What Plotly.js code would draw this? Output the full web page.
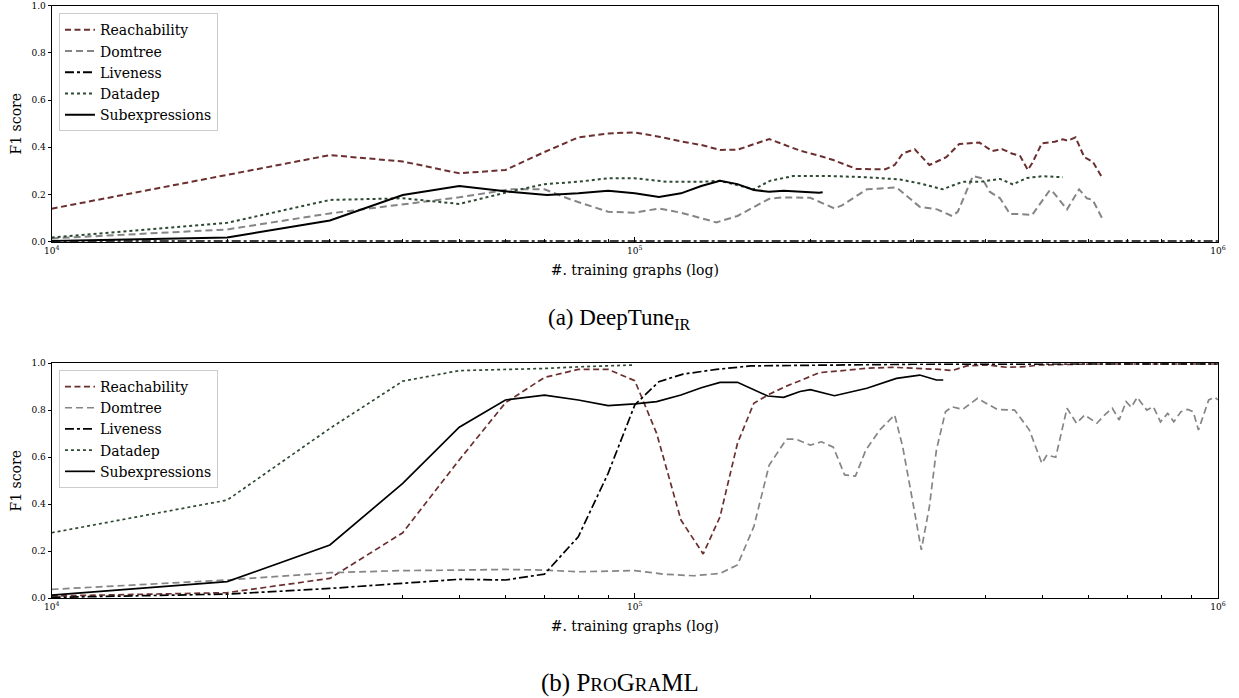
<!DOCTYPE html>
<html><head><meta charset="utf-8">
<script src="https://cdn.plot.ly/plotly-3.0.1.min.js"></script>
<style>html,body{margin:0;padding:0;background:#fff}#chart{width:1239px;height:698px}</style>
</head><body><div id="chart"></div>
<script>
// ---- (a) DeepTune_IR ----
const aReachX = [1e4,2e4,3e4,4e4,5e4,6e4,7e4,8e4,9e4,1e5,1.1e5,1.2e5,1.3e5,1.4e5,1.5e5,1.7e5,1.92e5,2.1e5,2.19e5,2.4e5,2.69e5,2.79e5,2.88e5,3.02e5,3.2e5,3.42e5,3.6e5,3.9e5,4.1e5,4.26e5,4.43e5,4.58e5,4.72e5,4.8e5,4.99e5,5.25e5,5.42e5,5.53e5,5.7e5,5.9e5,6.1e5,6.32e5];
const aReachY = [0.14,0.283,0.367,0.34,0.29,0.304,0.38,0.442,0.459,0.463,0.445,0.425,0.41,0.389,0.39,0.435,0.386,0.36,0.346,0.308,0.307,0.325,0.374,0.392,0.325,0.358,0.414,0.42,0.384,0.393,0.374,0.363,0.304,0.332,0.417,0.424,0.434,0.428,0.442,0.358,0.339,0.275];
const aDomX = [1e4,2e4,3e4,4e4,5e4,6.1e4,7e4,7.8e4,9e4,1e5,1.1e5,1.2e5,1.38e5,1.5e5,1.7e5,1.8e5,2e5,2.2e5,2.27e5,2.5e5,2.81e5,3.08e5,3.3e5,3.5e5,3.58e5,3.8e5,3.94e5,4.06e5,4.23e5,4.4e5,4.61e5,4.8e5,5.15e5,5.21e5,5.51e5,5.78e5,5.96e5,6.1e5,6.33e5];
const aDomY = [0.014,0.052,0.12,0.158,0.188,0.222,0.222,0.177,0.127,0.123,0.141,0.123,0.082,0.109,0.182,0.188,0.186,0.141,0.155,0.222,0.23,0.148,0.137,0.109,0.127,0.278,0.269,0.212,0.184,0.117,0.117,0.113,0.219,0.212,0.137,0.222,0.184,0.177,0.099];
const aLiveX = [1e4,3e4,1e5,3e5,1e6];
const aLiveY = [0.002,0.002,0.002,0.002,0.002];
const aDataX = [1e4,2e4,3e4,4e4,5e4,6.1e4,7e4,8e4,9e4,1e5,1.135e5,1.3e5,1.4e5,1.6e5,1.705e5,1.867e5,2e5,2.19e5,2.5e5,2.85e5,3.12e5,3.37e5,3.65e5,3.91e5,4.23e5,4.45e5,4.7e5,5.01e5,5.42e5];
const aDataY = [0.018,0.08,0.177,0.184,0.16,0.212,0.244,0.254,0.269,0.269,0.254,0.254,0.258,0.222,0.258,0.278,0.278,0.278,0.273,0.264,0.244,0.222,0.254,0.254,0.266,0.243,0.27,0.278,0.273];
const aSubX = [1e4,2e4,3e4,4e4,5e4,6.1e4,7.07e4,8e4,9e4,1e5,1.1e5,1.2e5,1.3e5,1.4e5,1.5e5,1.6e5,1.7e5,1.8e5,2.07e5,2.1e5];
const aSubY = [0.003,0.018,0.09,0.198,0.236,0.212,0.198,0.205,0.216,0.205,0.19,0.205,0.236,0.258,0.244,0.219,0.212,0.216,0.208,0.21];

// ---- (b) ProGraML ----
const bReachX = [1e4,2e4,3e4,4e4,5e4,6e4,7e4,8e4,9e4,1e5,1.09e5,1.2e5,1.31e5,1.4e5,1.5e5,1.6e5,1.7e5,1.82e5,1.92e5,2.07e5,2.27e5,2.5e5,2.77e5,3.08e5,3.33e5,3.5e5,3.71e5,4.02e5,4.35e5,4.7e5,4.93e5,6e5,1e6];
const bReachY = [0.01,0.024,0.085,0.279,0.589,0.832,0.94,0.974,0.974,0.926,0.702,0.333,0.189,0.347,0.66,0.83,0.868,0.903,0.926,0.96,0.969,0.979,0.983,0.979,0.974,0.969,0.989,0.993,0.983,0.986,0.993,0.997,0.998];
const bDomX = [1e4,2e4,3e4,4e4,5e4,6e4,7e4,8e4,1e5,1.12e5,1.26e5,1.4e5,1.5e5,1.6e5,1.7e5,1.82e5,1.89e5,2e5,2.09e5,2.19e5,2.29e5,2.39e5,2.49e5,2.63e5,2.79e5,2.88e5,3.0e5,3.1e5,3.2e5,3.29e5,3.41e5,3.5e5,3.65e5,3.87e5,4.18e5,4.48e5,4.75e5,4.87e5,4.99e5,5.09e5,5.27e5,5.51e5,5.72e5,5.91e5,6.2e5,6.39e5,6.59e5,6.77e5,6.96e5,7.1e5,7.27e5,7.55e5,7.75e5,7.97e5,8.2e5,8.4e5,8.64e5,8.88e5,9.07e5,9.26e5,9.64e5,9.88e5,1e6];
const bDomY = [0.038,0.078,0.109,0.118,0.12,0.123,0.12,0.113,0.118,0.103,0.096,0.106,0.142,0.305,0.567,0.677,0.677,0.652,0.666,0.643,0.525,0.52,0.631,0.716,0.78,0.645,0.404,0.206,0.39,0.631,0.794,0.815,0.804,0.851,0.804,0.801,0.716,0.645,0.574,0.61,0.6,0.809,0.745,0.78,0.745,0.78,0.809,0.759,0.837,0.813,0.855,0.801,0.815,0.751,0.787,0.751,0.794,0.804,0.794,0.716,0.844,0.855,0.844];
const bLiveX = [1e4,2e4,3e4,4e4,5e4,6e4,7e4,8e4,9e4,1e5,1.1e5,1.21e5,1.38e5,1.58e5,2.07e5,3e5,5e5,1e6];
const bLiveY = [0.004,0.018,0.042,0.064,0.081,0.078,0.103,0.262,0.532,0.823,0.922,0.954,0.974,0.989,0.993,0.996,0.997,0.998];
const bDataX = [1e4,2e4,3e4,4e4,5e4,6e4,7e4,8e4,9e4,1e5];
const bDataY = [0.279,0.418,0.723,0.924,0.969,0.974,0.978,0.985,0.99,0.993];
const bSubX = [1e4,2e4,3e4,4e4,5e4,6e4,7e4,8e4,9e4,1e5,1.09e5,1.2e5,1.3e5,1.4e5,1.5e5,1.6e5,1.69e5,1.8e5,1.92e5,2e5,2.2e5,2.5e5,2.81e5,3.08e5,3.29e5,3.38e5];
const bSubY = [0.014,0.071,0.227,0.489,0.728,0.844,0.865,0.844,0.82,0.827,0.837,0.865,0.896,0.919,0.919,0.886,0.861,0.855,0.88,0.888,0.862,0.894,0.936,0.95,0.929,0.929];

const seriesNames = ['Reachability','Domtree','Liveness','Datadep','Subexpressions'];
const yTickVals = [0,0.2,0.4,0.6,0.8,1.0];
const yTickText = ['0.0','0.2','0.4','0.6','0.8','1.0'];
const xTickVals = [1e4,1e5,1e6];
const xTickText = ['10<sup>4</sup>','10<sup>5</sup>','10<sup>6</sup>'];
const xMinorVals = [2e4,3e4,4e4,5e4,6e4,7e4,8e4,9e4,2e5,3e5,4e5,5e5,6e5,7e5,8e5,9e5];
const captionA = '(a) DeepTune<sub>IR</sub>';
const captionB = '(b) P<span style="font-size:19px">RO</span>G<span style="font-size:19px">RA</span>ML';
const xTitle = '#. training graphs (log)';
const yTitle = 'F1 score';

const styles = [
  {color:'#6b2f2f', dash:'6px,3.5px'},
  {color:'#858585', dash:'7px,4px'},
  {color:'#000000', dash:'dashdot'},
  {color:'#2f4a32', dash:'dot'},
  {color:'#000000', dash:'solid'}
];
const panelA = [[aReachX,aReachY],[aDomX,aDomY],[aLiveX,aLiveY],[aDataX,aDataY],[aSubX,aSubY]];
const panelB = [[bReachX,bReachY],[bDomX,bDomY],[bLiveX,bLiveY],[bDataX,bDataY],[bSubX,bSubY]];
const traces = [];
panelA.forEach((d,i)=>traces.push({x:d[0],y:d[1],name:seriesNames[i],type:'scatter',mode:'lines',
  xaxis:'x',yaxis:'y',legend:'legend',line:{color:styles[i].color,dash:styles[i].dash,width:2}}));
panelB.forEach((d,i)=>traces.push({x:d[0],y:d[1],name:seriesNames[i],type:'scatter',mode:'lines',
  xaxis:'x2',yaxis:'y2',legend:'legend2',line:{color:styles[i].color,dash:styles[i].dash,width:1.7}}));

const fontFam = '"DejaVu Serif", serif';
function xAx(anchor){return {type:'log',range:[4,6],domain:[0.0417,0.983],anchor:anchor,
  tickmode:'array',tickvals:xTickVals,ticktext:xTickText,ticks:'inside',ticklen:5,tickcolor:'#000',
  minor:{tickmode:'array',tickvals:xMinorVals,ticks:'inside',ticklen:3,tickcolor:'#000'},
  showline:true,linecolor:'#000',linewidth:1,mirror:true,showgrid:false,zeroline:false,
  tickfont:{family:fontFam,size:9,color:'#000'},
  title:{text:xTitle,font:{family:fontFam,size:14,color:'#000'},standoff:10}};}
function yAx(anchor,dom){return {range:[0,1],domain:dom,anchor:anchor,
  tickmode:'array',tickvals:yTickVals,ticktext:yTickText,ticks:'outside',ticklen:3,tickcolor:'#000',
  showline:true,linecolor:'#000',linewidth:1,mirror:true,showgrid:false,zeroline:false,
  tickfont:{family:fontFam,size:9,color:'#000'},
  title:{text:yTitle,font:{family:fontFam,size:14,color:'#000'},standoff:6}};}
const legStyle = {font:{family:fontFam,size:14,color:'#000'},bgcolor:'rgba(255,255,255,0.85)',
  bordercolor:'#cccccc',borderwidth:1,xanchor:'left',yanchor:'top',tracegroupgap:0,itemwidth:30};

const layout = {
  width:1239,height:698,margin:{l:0,r:0,t:0,b:0},paper_bgcolor:'#fff',plot_bgcolor:'#fff',
  showlegend:true,
  xaxis:xAx('y'), yaxis:yAx('x',[0.6537,0.9918]),
  xaxis2:xAx('y2'), yaxis2:yAx('x2',[0.1428,0.4795]),
  legend:Object.assign({x:0.0476,y:0.981},legStyle),
  legend2:Object.assign({x:0.0476,y:0.470},legStyle),
  annotations:[
    {text:captionA,xref:'paper',yref:'paper',x:0.5,y:(698-319)/698,xanchor:'center',yanchor:'middle',showarrow:false,
     font:{family:'"Liberation Serif", serif',size:23,color:'#000'}},
    {text:captionB,xref:'paper',yref:'paper',x:0.5,y:(698-683)/698,xanchor:'center',yanchor:'middle',showarrow:false,
     font:{family:'"Liberation Serif", serif',size:25,color:'#000'}}
  ]
};
Plotly.newPlot('chart',traces,layout,{displayModeBar:false,staticPlot:true});
</script></body></html>
